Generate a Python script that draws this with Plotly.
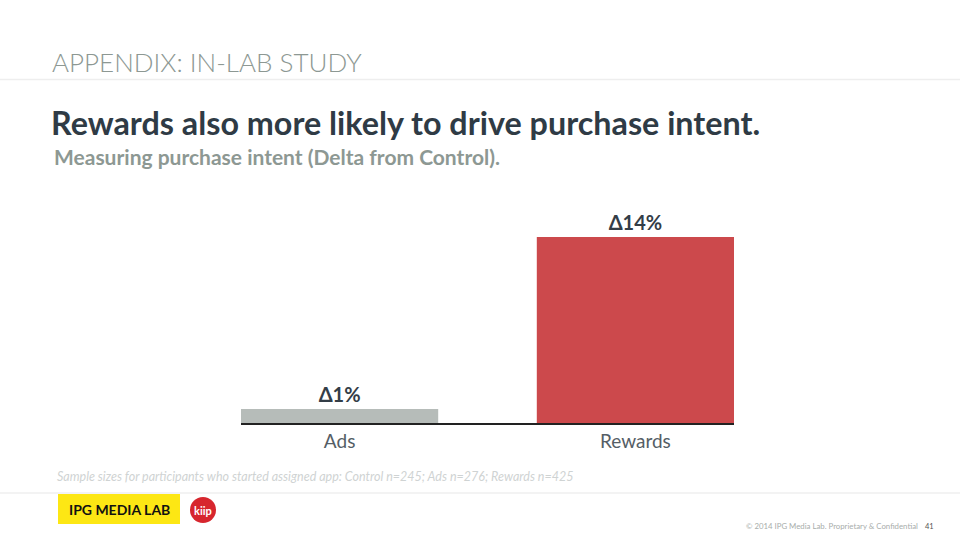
import plotly.graph_objects as go

categories = ["Ads", "Rewards"]
values = [1.05, 14]
labels = ["Δ1%", "Δ14%"]
colors = ["#b6bcb9", "#cc494c"]

W, H = 960, 540
L, R, T, B = 241, 226, 200, 117
px_per_unit = 186 / 14.0
ymax = (H - T - B) / px_per_unit

fig = go.Figure()
fig.add_trace(go.Bar(
    x=categories, y=values, marker=dict(color=colors, line=dict(width=0)),
    text=labels, textposition="outside", cliponaxis=False,
    textfont=dict(family="Lato", size=20, color="#333d47", weight="bold"),
    hoverinfo="skip",
))

fig.update_layout(
    width=W, height=H,
    margin=dict(l=L, r=R, t=T, b=B),
    paper_bgcolor="white", plot_bgcolor="white",
    bargap=1 / 3, showlegend=False,
    font=dict(family="Lato"),
    xaxis=dict(range=[-1 / 3, 4 / 3], showline=True, linecolor="#222222", linewidth=1.5,
               ticks="", showgrid=False, zeroline=False,
               tickfont=dict(family="Lato", size=19, color="#555e66")),
    yaxis=dict(range=[0, ymax], visible=False, showgrid=False, zeroline=False),
)


def fx(px):
    return (px - L) / (W - L - R)


def fy(py):
    return (H - B - py) / (H - T - B)


def ann(x, y, text, size, color, weight="normal", xanchor="left", italic=False):
    fig.add_annotation(
        x=fx(x), y=fy(y), xref="paper", yref="paper", showarrow=False,
        text=text, xanchor=xanchor, yanchor="middle",
        font=dict(family="Lato", size=size, color=color, weight=weight,
                  style="italic" if italic else "normal"),
    )


ann(50, 62, "APPENDIX: IN-LAB STUDY", 26, "#8d9893", weight=300)
ann(49, 123, "Rewards also more likely to drive purchase intent.", 32.3, "#2f3b45", weight="bold")
ann(52, 156, "Measuring purchase intent (Delta from Control).", 21, "#8d9893", weight="bold")
ann(55, 476, "Sample sizes for participants who started assigned app: Control n=245; Ads n=276; Rewards n=425",
    12.5, "#cfd3d3", italic=True)
ann(119, 509, "IPG MEDIA LAB", 14, "#111111", weight="bold", xanchor="center")
ann(203, 510, "kiip", 11, "white", weight="bold", xanchor="center")
ann(920, 526, "© 2014 IPG Media Lab. Proprietary & Confidential", 7.8, "#a8adab", xanchor="right")
ann(936, 526, "41", 7.5, "#555555", xanchor="right")

fig.add_shape(type="line", xref="paper", yref="paper", x0=fx(0), x1=fx(960), y0=fy(79.5), y1=fy(79.5),
              line=dict(color="#eeeeee", width=1.5), layer="below")
fig.add_shape(type="line", xref="paper", yref="paper", x0=fx(0), x1=fx(960), y0=fy(493), y1=fy(493),
              line=dict(color="#efefef", width=1.5), layer="below")
fig.add_shape(type="rect", xref="paper", yref="paper", x0=fx(58), x1=fx(180), y0=fy(524), y1=fy(494),
              fillcolor="#fde714", line=dict(width=0), layer="below")
fig.add_shape(type="circle", xref="paper", yref="paper", x0=fx(190), x1=fx(216), y0=fy(523), y1=fy(497),
              fillcolor="#d7262e", line=dict(width=0), layer="below")

fig.write_html("out.html", config={"displayModeBar": False},
               post_script="document.body.style.margin='0';document.body.style.padding='0';")
